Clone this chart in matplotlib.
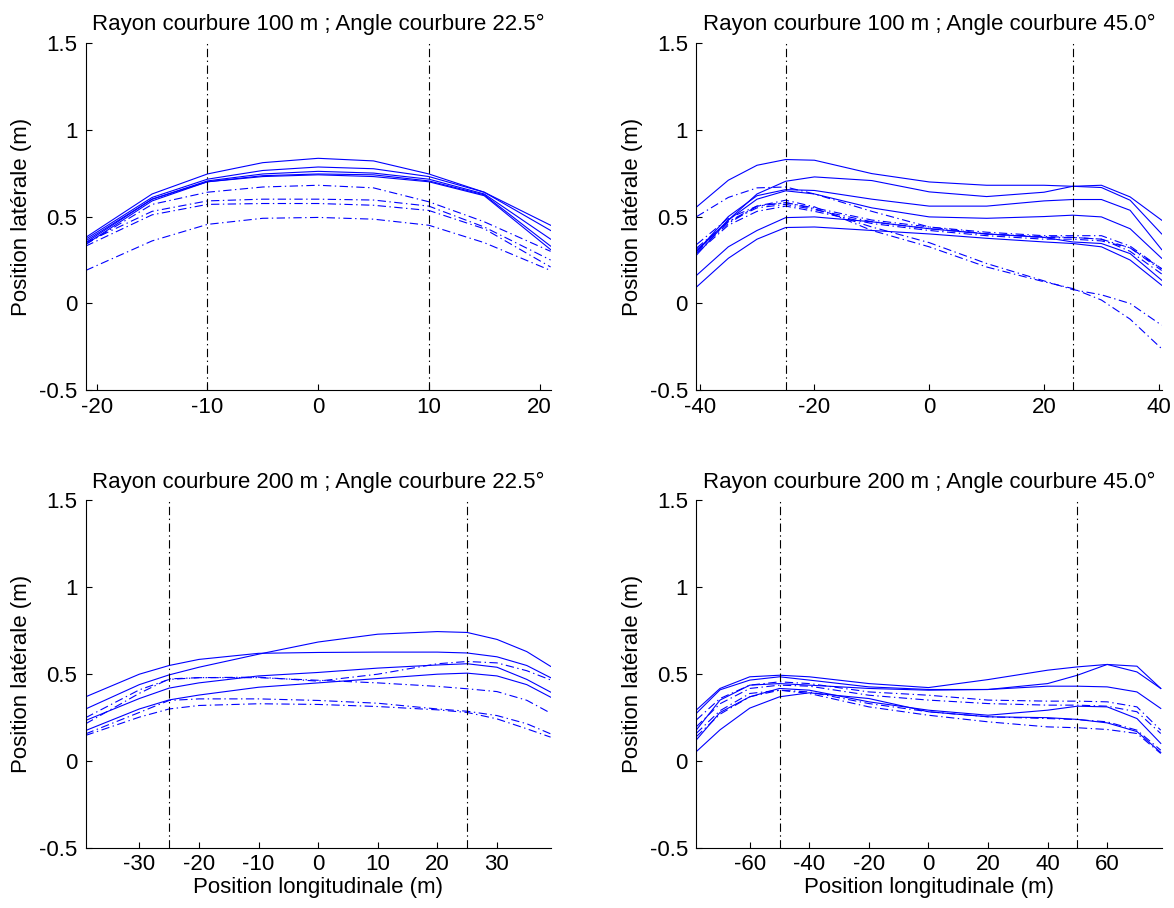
import matplotlib
matplotlib.use('Agg')
import matplotlib.pyplot as plt

plt.rcParams['font.family'] = ['Liberation Sans', 'DejaVu Sans']
plt.rcParams['lines.scale_dashes'] = False
plt.rcParams['axes.unicode_minus'] = False

# Rayon 100 m ; angle 22.5 deg
x_tl = [-21, -15, -10, -5, 0, 5, 10, 15, 21]
tl_solid = [
    [0.38, 0.63, 0.745, 0.81, 0.835, 0.82, 0.745, 0.64, 0.45],
    [0.37, 0.61, 0.715, 0.765, 0.785, 0.775, 0.73, 0.64, 0.42],
    [0.35, 0.60, 0.705, 0.745, 0.76, 0.75, 0.715, 0.63, 0.37],
    [0.36, 0.60, 0.70, 0.735, 0.745, 0.74, 0.705, 0.625, 0.33],
    [0.34, 0.59, 0.70, 0.73, 0.74, 0.73, 0.70, 0.62, 0.31],
]
tl_dash = [
    [0.34, 0.57, 0.64, 0.67, 0.68, 0.665, 0.585, 0.47, 0.30],
    [0.35, 0.53, 0.59, 0.60, 0.60, 0.595, 0.56, 0.44, 0.25],
    [0.33, 0.51, 0.57, 0.575, 0.575, 0.565, 0.535, 0.43, 0.21],
    [0.19, 0.36, 0.455, 0.49, 0.495, 0.485, 0.45, 0.35, 0.19],
]

# Rayon 100 m ; angle 45 deg
x_tr = [-40.5, -35, -30, -25, -20, -10, 0, 10, 20, 25, 30, 35, 40.5]
tr_solid = [
    [0.556, 0.709, 0.795, 0.828, 0.824, 0.747, 0.699, 0.680, 0.680, 0.674, 0.680, 0.613, 0.479],
    [0.30, 0.48, 0.63, 0.703, 0.728, 0.707, 0.642, 0.615, 0.640, 0.674, 0.667, 0.594, 0.40],
    [0.30, 0.50, 0.62, 0.655, 0.650, 0.60, 0.56, 0.56, 0.59, 0.598, 0.598, 0.536, 0.31],
    [0.28, 0.48, 0.60, 0.648, 0.63, 0.55, 0.498, 0.49, 0.50, 0.508, 0.498, 0.43, 0.26],
    [0.163, 0.326, 0.42, 0.494, 0.498, 0.47, 0.43, 0.40, 0.38, 0.354, 0.345, 0.287, 0.134],
    [0.096, 0.26, 0.37, 0.437, 0.44, 0.42, 0.40, 0.375, 0.354, 0.345, 0.326, 0.25, 0.105],
]
tr_dash = [
    [0.50, 0.61, 0.665, 0.67, 0.63, 0.53, 0.44, 0.40, 0.385, 0.38, 0.37, 0.32, 0.20],
    [0.30, 0.46, 0.56, 0.594, 0.556, 0.42, 0.326, 0.21, 0.125, 0.086, 0.02, -0.09, -0.26],
    [0.32, 0.47, 0.56, 0.58, 0.545, 0.44, 0.35, 0.23, 0.13, 0.08, 0.05, 0.0, -0.125],
    [0.34, 0.49, 0.56, 0.58, 0.55, 0.48, 0.44, 0.41, 0.39, 0.39, 0.39, 0.33, 0.20],
    [0.31, 0.47, 0.55, 0.57, 0.54, 0.47, 0.43, 0.40, 0.38, 0.38, 0.37, 0.30, 0.17],
    [0.29, 0.45, 0.53, 0.56, 0.53, 0.46, 0.42, 0.39, 0.37, 0.37, 0.36, 0.32, 0.19],
]

# Rayon 200 m ; angle 22.5 deg
x_bl = [-39, -30, -25, -20, -10, 0, 10, 20, 25, 30, 35, 39]
bl_solid = [
    [0.30, 0.44, 0.496, 0.54, 0.615, 0.685, 0.73, 0.745, 0.74, 0.70, 0.63, 0.545],
    [0.37, 0.50, 0.55, 0.585, 0.62, 0.625, 0.627, 0.627, 0.622, 0.60, 0.55, 0.48],
    [0.234, 0.36, 0.42, 0.45, 0.49, 0.51, 0.535, 0.553, 0.56, 0.54, 0.47, 0.397],
    [0.176, 0.30, 0.352, 0.38, 0.425, 0.45, 0.475, 0.50, 0.506, 0.49, 0.44, 0.368],
]
bl_dash = [
    [0.215, 0.39, 0.473, 0.48, 0.483, 0.46, 0.50, 0.56, 0.573, 0.565, 0.52, 0.467],
    [0.25, 0.41, 0.47, 0.48, 0.48, 0.465, 0.45, 0.43, 0.416, 0.40, 0.35, 0.276],
    [0.157, 0.28, 0.349, 0.358, 0.358, 0.349, 0.333, 0.30, 0.287, 0.262, 0.215, 0.157],
    [0.148, 0.253, 0.30, 0.32, 0.33, 0.326, 0.314, 0.295, 0.28, 0.243, 0.186, 0.138],
]

# Rayon 200 m ; angle 45 deg
x_br = [-78, -70, -60, -50, -40, -20, 0, 20, 40, 50, 60, 70, 78]
br_solid = [
    [0.293, 0.418, 0.485, 0.494, 0.485, 0.446, 0.423, 0.469, 0.523, 0.542, 0.556, 0.513, 0.418],
    [0.274, 0.41, 0.466, 0.485, 0.466, 0.427, 0.412, 0.412, 0.446, 0.494, 0.556, 0.546, 0.418],
    [0.178, 0.351, 0.437, 0.446, 0.437, 0.418, 0.408, 0.412, 0.431, 0.431, 0.427, 0.398, 0.303],
    [0.121, 0.28, 0.37, 0.418, 0.408, 0.341, 0.293, 0.264, 0.293, 0.316, 0.312, 0.245, 0.102],
    [0.054, 0.18, 0.305, 0.37, 0.393, 0.36, 0.284, 0.255, 0.25, 0.24, 0.22, 0.17, 0.05],
]
br_dash = [
    [0.236, 0.36, 0.437, 0.456, 0.446, 0.398, 0.379, 0.351, 0.345, 0.345, 0.341, 0.312, 0.178],
    [0.197, 0.33, 0.418, 0.437, 0.431, 0.379, 0.351, 0.331, 0.322, 0.322, 0.316, 0.284, 0.159],
    [0.159, 0.29, 0.389, 0.408, 0.398, 0.331, 0.284, 0.255, 0.245, 0.239, 0.226, 0.178, 0.063],
    [0.140, 0.27, 0.370, 0.408, 0.389, 0.312, 0.264, 0.226, 0.197, 0.192, 0.182, 0.159, 0.044],
]

titles = ['Rayon courbure 100 m ; Angle courbure 22.5\u00b0',
          'Rayon courbure 100 m ; Angle courbure 45.0\u00b0',
          'Rayon courbure 200 m ; Angle courbure 22.5\u00b0',
          'Rayon courbure 200 m ; Angle courbure 45.0\u00b0']
xlims = [(-21, 21), (-40.6, 40.6), (-39, 39), (-78, 78.5)]
vlines = [10, 25, 25, 50]
xticks = [[-20, -10, 0, 10, 20], [-40, -20, 0, 20, 40],
          [-30, -20, -10, 0, 10, 20, 30], [-60, -40, -20, 0, 20, 40, 60]]
yticks = [-0.5, 0, 0.5, 1, 1.5]
ytick_labels = ['-0.5', '0', '0.5', '1', '1.5']

panels = [(x_tl, tl_solid, tl_dash), (x_tr, tr_solid, tr_dash),
          (x_bl, bl_solid, bl_dash), (x_br, br_solid, br_dash)]
positions = [[0.073, 0.570, 0.396, 0.383], [0.593, 0.570, 0.397, 0.383],
             [0.073, 0.066, 0.396, 0.383], [0.593, 0.066, 0.397, 0.383]]

dashdot = (0, (6, 2.5, 1, 2.5))
fs = 16

fig = plt.figure(figsize=(11.74, 9.08), dpi=100)
for i, (x, solid, dash) in enumerate(panels):
    ax = fig.add_axes(positions[i])
    for y in solid:
        ax.plot(x, y, color='blue', lw=0.8)
    for y in dash:
        ax.plot(x, y, color='blue', lw=0.8, linestyle=dashdot)
    v = vlines[i]
    ax.plot([-v, -v], [-0.5, 1.5], color='black', lw=0.8, linestyle=dashdot)
    ax.plot([v, v], [-0.5, 1.5], color='black', lw=0.8, linestyle=dashdot)

    ax.set_xlim(xlims[i])
    ax.set_ylim(-0.5, 1.5)
    ax.set_xticks(xticks[i])
    ax.set_yticks(yticks)
    ax.set_yticklabels(ytick_labels)
    ax.spines['top'].set_visible(False)
    ax.spines['right'].set_visible(False)
    ax.tick_params(direction='in', length=4, width=0.8, labelsize=fs)
    ax.tick_params(axis='x', pad=4.5)
    ax.tick_params(axis='y', pad=6)
    ax.set_title(titles[i], fontsize=fs, pad=9)
    ax.set_ylabel('Position lat\u00e9rale (m)', fontsize=fs, labelpad=5)
    if i >= 2:
        ax.set_xlabel('Position longitudinale (m)', fontsize=fs, labelpad=1)

fig.savefig('out.png', dpi=100)
